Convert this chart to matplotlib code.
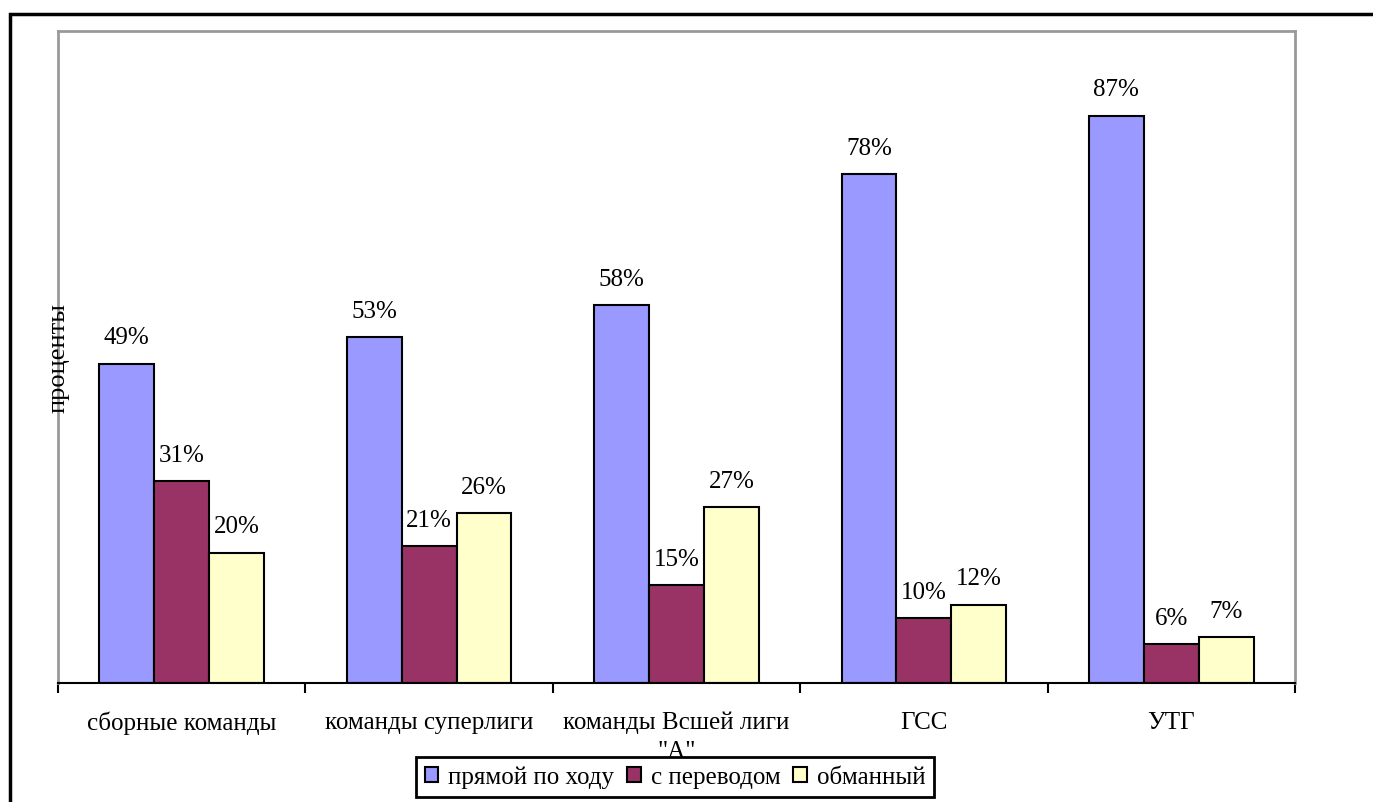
import numpy as np
import matplotlib.pyplot as plt
from matplotlib.patches import Rectangle

categories = ['сборные команды', 'команды суперлиги', 'команды Всшей лиги\n"А"', 'ГСС', 'УТГ']
series_names = ['прямой по ходу', 'с переводом', 'обманный']
direct = [49, 53, 58, 78, 87]
transfer = [31, 21, 15, 10, 6]
deceptive = [20, 26, 27, 12, 7]
colors = ['#9999FF', '#993366', '#FFFFCC']

plt.rcParams['font.family'] = ['Liberation Serif', 'DejaVu Serif']

fig = plt.figure(figsize=(13.73, 8.03), dpi=100)
ax = fig.add_axes([58 / 1373, 1 - 684 / 803, (1295 - 58) / 1373, (684 - 32) / 803])

x = np.arange(len(categories))
w = 0.222
for i, (vals, name) in enumerate(zip([direct, transfer, deceptive], series_names)):
    bars = ax.bar(x + (i - 1) * w, vals, w, color=colors[i], edgecolor='black',
                  linewidth=1.5, label=name)
    for b, v in zip(bars, vals):
        ax.annotate(f'{v}%', (b.get_x() + b.get_width() / 2, v), xytext=(0, 11),
                    textcoords='offset points', ha='center', va='bottom', fontsize=18)

ax.set_xlim(-0.5, len(categories) - 0.5)
ax.set_ylim(0, 100)
ax.set_yticks([])
ax.set_xticks(np.arange(len(categories) + 1) - 0.5)
ax.set_xticklabels([])
ax.set_xticks(x, minor=True)
ax.set_xticklabels(categories, minor=True, fontsize=18, linespacing=1.4)
ax.tick_params(axis='x', which='major', direction='out', length=7, width=1.5, color='black')
ax.tick_params(axis='x', which='minor', length=0, pad=20)

for s in ['left', 'top', 'right']:
    ax.spines[s].set_color('#999999')
    ax.spines[s].set_linewidth(2)
ax.spines['bottom'].set_color('black')
ax.spines['bottom'].set_linewidth(1.5)

ax.text(0, 0.5, 'проценты', transform=ax.transAxes, rotation=90,
        ha='center', va='center', fontsize=19)

# legend below the axis labels, so the "А" sits on top of its border
leg = ax.legend(loc='center', bbox_to_anchor=(675 / 1373, 1 - 778 / 803),
                bbox_transform=fig.transFigure, ncol=3,
                fontsize=18, frameon=True, fancybox=False, edgecolor='black',
                framealpha=1, handlelength=0.55, handleheight=0.55, handletextpad=0.4,
                columnspacing=0.5, borderpad=0.35, borderaxespad=0)
leg.get_frame().set_linewidth(2)
leg.set_zorder(2)

fig.patches.append(Rectangle((10 / 1373, -0.1), 1.2, 1 - 15 / 803 + 0.1,
                             transform=fig.transFigure, fill=False,
                             edgecolor='black', linewidth=2.5))

fig.savefig('out.png', dpi=100)
